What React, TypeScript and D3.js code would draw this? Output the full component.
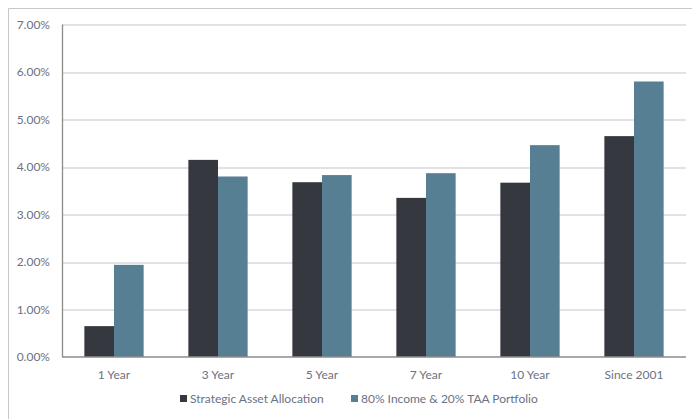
import React, { useEffect, useRef } from 'react';
import * as d3 from 'd3';

const categories = ['1 Year', '3 Year', '5 Year', '7 Year', '10 Year', 'Since 2001'];
const seriesNames = ['Strategic Asset Allocation', '80% Income & 20% TAA Portfolio'];
const strategic = [0.65, 4.15, 3.68, 3.35, 3.67, 4.65];
const income = [1.94, 3.8, 3.83, 3.87, 4.46, 5.8];
const yTicks = [0, 1, 2, 3, 4, 5, 6, 7];
const colors = ['#35383f', '#577f93'];

const App = () => {
  const ref = useRef<SVGSVGElement>(null);

  useEffect(() => {
    const width = 692;
    const height = 419;
    const margin = { top: 24.5, right: 6, bottom: 62, left: 62 };
    const chartWidth = width - margin.left - margin.right;
    const chartHeight = height - margin.top - margin.bottom;
    const font = 'Lato, "Open Sans", sans-serif';
    const textColor = '#6b7282';

    const root = d3.select(ref.current);
    root.selectAll('*').remove();

    // frame
    root.append('line').attr('x1', 8.5).attr('x2', width).attr('y1', 8.5).attr('y2', 8.5)
      .attr('stroke', '#c8c8c8');
    root.append('line').attr('x1', 8.5).attr('x2', 8.5).attr('y1', 8.5).attr('y2', height)
      .attr('stroke', '#c8c8c8');

    const svg = root.append('g').attr('transform', `translate(${margin.left},${margin.top})`);

    const xScale = d3.scaleBand().domain(categories).range([0, chartWidth]).paddingInner(0.43).paddingOuter(0.215);
    const inner = d3.scaleBand().domain(['0', '1']).range([0, xScale.bandwidth()]);
    const yScale = d3.scaleLinear().domain([0, 7]).range([chartHeight, 0]);

    // grid
    svg.append('g')
      .selectAll('line')
      .data(yTicks.slice(1))
      .join('line')
      .attr('x1', 0)
      .attr('x2', chartWidth)
      .attr('y1', d => Math.round(yScale(d)) + 0.5)
      .attr('y2', d => Math.round(yScale(d)) + 0.5)
      .attr('stroke', '#d9d9de')
      .attr('stroke-width', 1.3);

    // bars
    [strategic, income].forEach((values, s) => {
      svg.append('g')
        .selectAll('rect')
        .data(values)
        .join('rect')
        .attr('x', (_, i) => (xScale(categories[i]) as number) + (inner(String(s)) as number))
        .attr('y', d => yScale(d))
        .attr('width', inner.bandwidth())
        .attr('height', d => chartHeight - yScale(d))
        .attr('fill', colors[s]);
    });

    // axes
    svg.append('line').attr('x1', 0.5).attr('x2', 0.5).attr('y1', 0).attr('y2', chartHeight)
      .attr('stroke', '#8c8c8c').attr('stroke-width', 1.3);
    svg.append('line').attr('x1', 0).attr('x2', chartWidth).attr('y1', chartHeight).attr('y2', chartHeight)
      .attr('stroke', '#8c8c8c').attr('stroke-width', 1.3);

    svg.append('g')
      .selectAll('text')
      .data(yTicks)
      .join('text')
      .attr('x', -12)
      .attr('y', d => yScale(d))
      .attr('dy', '0.35em')
      .attr('text-anchor', 'end')
      .style('font-family', font)
      .style('font-size', '12px')
      .attr('fill', textColor)
      .text(d => `${d.toFixed(2)}%`);

    svg.append('g')
      .selectAll('text')
      .data(categories)
      .join('text')
      .attr('x', d => (xScale(d) as number) + xScale.bandwidth() / 2)
      .attr('y', chartHeight + 22)
      .attr('text-anchor', 'middle')
      .style('font-family', font)
      .style('font-size', '12px')
      .attr('fill', textColor)
      .text(d => d);

    // legend
    const legendX = [180, 351];
    const legend = root.append('g').attr('transform', `translate(0, 403)`);
    seriesNames.forEach((name, i) => {
      const row = legend.append('g').attr('transform', `translate(${legendX[i]}, 0)`);
      row.append('rect').attr('x', 0).attr('y', -8).attr('width', 7).attr('height', 7).attr('fill', colors[i]);
      row.append('text')
        .attr('x', 10)
        .attr('y', 0)
        .style('font-family', font)
        .style('font-size', '12px')
        .attr('fill', textColor)
        .text(name);
    });
  }, []);

  return (
    <svg
      ref={ref}
      width={692}
      height={419}
      style={{ position: 'absolute', left: 0, top: 0, background: '#fff' }}
    />
  );
};

export default App;
